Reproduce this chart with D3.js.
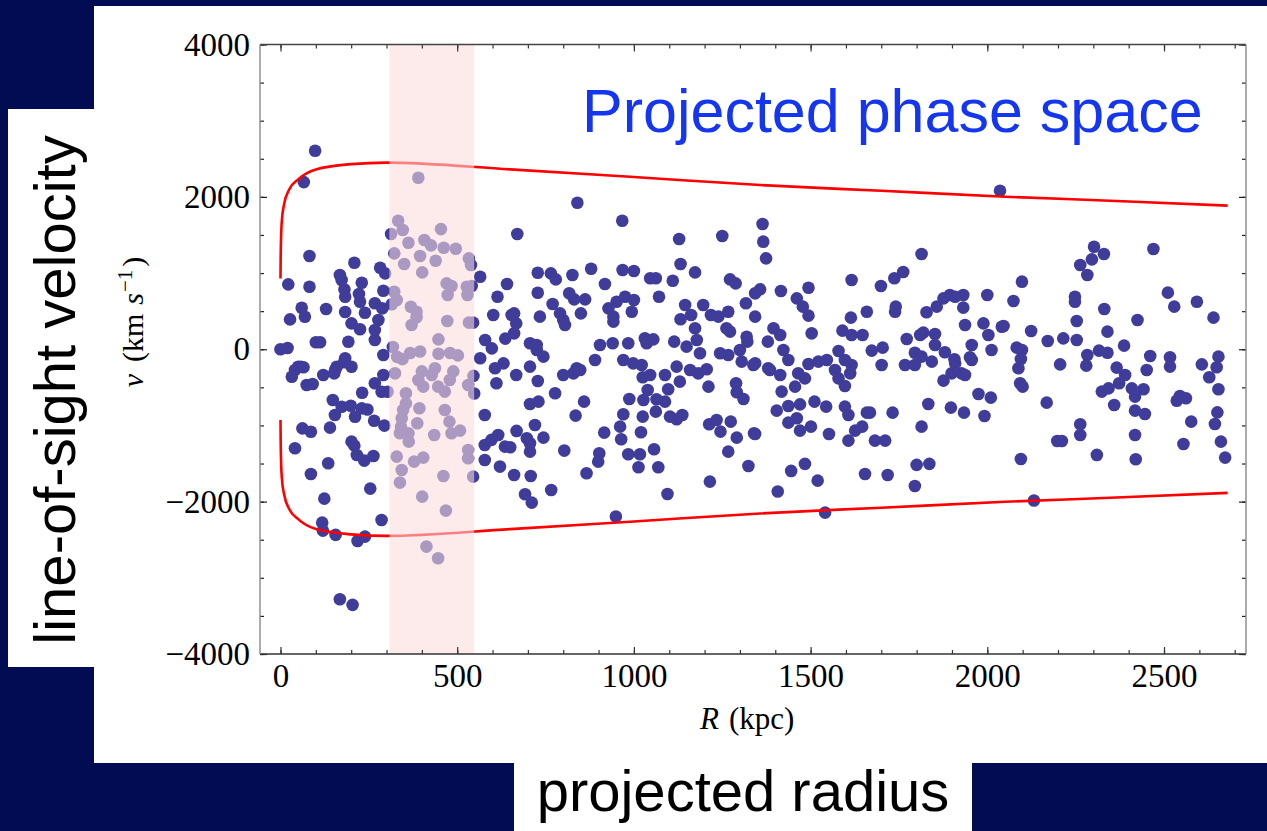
<!DOCTYPE html>
<html>
<head>
    <meta charset="utf-8">
    <script src="https://cdnjs.cloudflare.com/ajax/libs/d3/7.8.5/d3.min.js"></script>
    <style>
        body, html {
            margin: 0;
            padding: 0;
            background: #010c53;
            overflow: hidden;
        }
        svg {
            display: block;
        }
        .tick text {
            font-family: "Liberation Serif", "Times New Roman", serif;
            font-size: 33px;
            fill: #000;
        }
    </style>
</head>
<body>
    <svg></svg>
    <script>
        // projected radius R (kpc), line-of-sight velocity v (km/s)
        const innerMembers = [
            [98,2605],[66,2194],[390,2251],[82,1223],[333,1687],[346,1565],[313,1512],[362,1398],[454,1577],[407,1433],
            [426,1363],[462,1333],[496,1320],[395,1223],[322,1259],[350,1118],[439,1162],[401,1009],[533,1193],[539,1105],
            [670,1512],[565,952],[22,852],[82,821],[209,1136],[168,974],[173,908],[230,873],[282,1070],[296,996],
            [181,786],[183,690],[222,725],[225,624],[291,768],[267,603],[60,545],[129,528],[69,427],[27,392],
            [183,489],[239,480],[288,537],[277,384],[267,253],[201,340],[225,262],[267,121],[192,99],[100,91],
            [112,91],[0,0],[20,16],[183,-119],[291,-75],[50,-229],[58,-229],[159,-229],[201,-229],
            [322,755],[329,646],[315,590],[369,558],[385,493],[371,318],[385,420],[470,865],[484,830],[473,712],
            [527,821],[529,712],[472,371],[533,349],[447,130],[545,350],[541,830],[641,856],[614,690],[602,449],
            [654,449],[579,121],[598,12],[636,140],[565,-119],[631,-185],
            [330,-100],[345,-130],[367,-50],[395,-30],[447,-60],[480,-50],[502,-80],[318,30]
        ];
        const innerLowMembers = [
            [41,-272],[65,-237],[32,-360],[74,-469],[91,-456],[121,-338],[152,-316],[155,-265],[180,-170],[267,-447],
            [291,-338],[286,-557],[303,-557],[231,-570],[148,-666],[173,-754],[199,-741],[230,-776],[246,-790],[154,-863],
            [211,-885],[265,-938],[294,-1003],[140,-1029],[62,-1038],[86,-1082],[201,-1213],[209,-1265],[216,-1388],[237,-1462],
            [263,-1401],[41,-1300],[135,-1497],[86,-1637],[254,-1829],[124,-1961],[286,-2241],[118,-2276],[120,-2381],[156,-2437],
            [218,-2516],[239,-2459],[168,-3281],[204,-3355],
            [324,-316],[355,-578],[355,-710],[347,-797],[343,-906],[341,-1016],[338,-1103],[362,-1103],[363,-1212],
            [390,-403],[404,-491],[428,-338],[446,-491],[465,-556],[479,-403],[531,-469],[393,-775],[465,-797],[478,-950],
            [387,-972],[435,-1125],[484,-1103],[508,-1068],[329,-1409],[378,-1475],[404,-1422],[343,-1584],[338,-1750],[461,-1663],
            [531,-1322],[531,-1431],[545,-1672],[401,-1934],[468,-2118],[413,-2590],[446,-2743],[548,-580],
            [400,-290],[437,-250],[489,-290],[546,-350],
            [578,-863],[607,-250],[611,-447],[616,-1125],[597,-1190],[578,-1256],[635,-1278],[578,-1453],[621,-1540]
        ];
        const middleMembers = [
            [840,1923],[967,1687],[1128,1447],[1250,1486],[1132,1119],[1173,1009],[728,1005],[765,996],[779,917],[826,974],
            [879,1057],[968,1040],[1000,1027],[918,856],[1046,931],[1062,931],[1110,900],[1272,917],[1288,865],[728,742],
            [817,734],[831,655],[862,655],[770,594],[1071,690],[975,690],[1000,646],[951,624],[928,537],[942,428],
            [942,362],[994,493],[1145,581],[1162,450],[1132,393],[1196,581],[1218,450],[1239,428],[1267,493],[1317,603],
            [661,471],[667,340],[661,209],[734,428],[791,471],[800,384],[805,318],[850,471],[1173,275],[1262,275],
            [1272,231],[1319,165],[1321,100],[706,78],[725,56],[725,-10],[744,-97],[904,56],[940,78],[984,78],
            [1031,144],[1055,130],[1036,78],[1114,100],[1149,34],[1178,122],[1187,-53],[1244,-53],[1267,-75],[1300,-10]
        ];
        const middleLowMembers = [
            [667,-338],[706,-228],[728,-416],[777,-578],[800,-338],[829,-316],[838,-250],[848,-272],[890,-141],[706,-718],
            [730,-688],[859,-688],[835,-871],[668,-1072],[697,-1169],[706,-1234],[720,-994],[744,-1160],[706,-1344],[650,-1287],
            [803,-1330],[661,-1650],[708,-1663],[692,-1903],[711,-2013],[766,-1847],[866,-1628],[916,-1094],[902,-1366],[899,-1475],
            [949,-2196],[970,-854],[961,-1016],[964,-1182],[987,-653],[970,-141],[998,-185],[1022,-207],[1025,-368],[1046,-338],
            [1039,-534],[1027,-666],[1025,-884],[1020,-1090],[984,-1379],[1017,-1379],[1013,-1549],[1057,-1313],[1069,-1549],[1062,-819],
            [1064,-657],[1088,-688],[1088,-338],[1097,-526],[1130,-425],[1121,-228],[1102,-884],[1121,-919],[1137,-863],[1095,-1899],
            [1159,-272],[1182,-316],[1206,-263],[1211,-491],[1289,-447],[1291,-565],[1310,-653],[1213,-985],[1234,-928],[1245,-1081],
            [1274,-950],[1291,-1160],[1267,-1344],[1215,-1737],[1324,-1532],[1340,-1103],[1305,-163],[1338,-207]
        ];
        const outerMembers = [
            [2036,2081],[1364,1643],[1366,1412],[1374,1193],[1814,1250],[1616,909],[1699,830],[1737,931],[1762,1014],[1357,786],
            [1343,734],[1416,764],[1494,808],[1461,668],[1478,559],[1494,441],[1343,428],[1614,415],[1659,493],[1741,559],
            [1739,493],[1828,485],[1857,559],[1876,668],[1894,712],[1909,690],[1932,712],[1932,546],[2000,712],[1989,340],
            [2003,187],[2012,-10],[2041,296],[1937,318],[1503,209],[1395,275],[1414,187],[1379,100],[1590,244],[1616,187],
            [1647,187],[1772,135],[1810,187],[1819,218],[1852,200],[1852,56],[1880,-40],[1907,-132],[1956,56],[1951,-106],
            [1423,-10],[1437,-141],[1673,-18],[1704,21],[1579,-23],[1597,-141],[1494,-193],[1522,-163],[1546,-141],[1795,-45],
            [1814,-97],[1701,-206],[1767,-206],[1343,-184],[1380,-250]
        ];
        const outerLowMembers = [
            [1541,-2144],[1407,-1868],[1445,-1597],[1484,-1505],[1520,-1724],[1654,-1637],[1718,-1650],[1800,-1518],[1836,-1505],[1795,-1794],
            [1343,-1112],[1552,-1112],[1607,-1199],[1626,-1068],[1646,-1016],[1682,-1199],[1711,-1199],[1814,-1016],[1732,-832],[1833,-718],
            [1897,-766],[1934,-832],[1975,-587],[2010,-635],[1992,-876],[1404,-806],[1437,-744],[1470,-723],[1437,-963],[1461,-906],
            [1470,-1068],[1501,-1016],[1511,-688],[1544,-753],[1597,-753],[1607,-862],[1659,-832],[1668,-832],[1418,-556],[1456,-491],
            [1465,-316],[1484,-382],[1385,-272],[1414,-338],[1569,-272],[1579,-382],[1597,-482],[1612,-316],[1616,-207],[1795,-207],
            [1843,-163],[1876,-412],[1899,-316],[1927,-316],[1937,-338],[1909,-185],[1956,-141]
        ];
        const farMembers = [
            [2302,1346],[2330,1250],[2296,1180],[2263,1106],[2283,974],[2470,1315],[2098,887],[2074,633],[2248,690],[2248,624],
            [2331,528],[2511,743],[2529,559],[2593,624],[2640,415],[2425,384],[2253,371],[2046,305],[2124,240],[2171,108],
            [2215,143],[2253,122],[2340,231],[2387,47],[2083,21],[2098,-10],[2095,-128],[2283,-75],[2316,-18],[2340,-45],
            [2461,-88],[2517,-106],[2654,-97],[2206,-198],[2280,-215],[2366,-241],[2451,-272],[2517,-228],[2607,-198],[2649,-237],
            [2088,-250],
            [2132,-1986],[2095,-1440],[2310,-1387],[2420,-1444],[2673,-1422],[2198,-1204],[2211,-1204],[2263,-985],[2263,-1125],[2418,-1125],
            [2555,-1243],[2661,-1212],[2168,-701],[2359,-731],[2418,-806],[2446,-849],[2577,-950],[2644,-981],[2651,-828],[2654,-526],
            [2628,-368],[2390,-338],[2373,-447],[2324,-556],[2343,-513],[2409,-513],[2418,-622],[2442,-526],[2536,-675],[2545,-613],
            [2562,-644],[2093,-447],[2100,-491]
        ];

        // escape-velocity envelope (upper branch, lower branch is mirrored)
        const envelopeR = [0, 0.5, 1.5, 4, 10, 25, 50, 100, 200, 300, 650, 1000, 1357, 1700, 2050, 2400, 2680];
        const envelopeV = [930, 1200, 1450, 1700, 1900, 2100, 2230, 2360, 2430, 2450, 2361, 2260, 2155, 2080, 2002, 1940, 1885];

        const bandR = [308, 548];
        const xMajor = [0, 500, 1000, 1500, 2000, 2500];
        const yMajor = [-4000, -2000, 0, 2000, 4000];

        const members = [].concat(innerMembers, innerLowMembers, middleMembers, middleLowMembers,
            outerMembers, outerLowMembers, farMembers);

        const width = 1267, height = 831;
        const plot = { left: 260, right: 1246, top: 44.5, bottom: 654 };

        const svg = d3.select("svg")
            .attr("width", width)
            .attr("height", height);

        // white slide panels
        svg.append("rect").attr("x", 94).attr("y", 6).attr("width", width - 94).attr("height", 757).attr("fill", "#fff");
        svg.append("rect").attr("x", 8).attr("y", 109).attr("width", 88).attr("height", 558).attr("fill", "#fff");
        svg.append("rect").attr("x", 514).attr("y", 762).attr("width", 458).attr("height", 69).attr("fill", "#fff");

        const x = d3.scaleLinear().domain([-58, 2732]).range([plot.left, plot.right]);
        const y = d3.scaleLinear().domain([-4000, 4000]).range([plot.bottom, plot.top]);

        // members
        svg.append("g")
            .selectAll("circle")
            .data(members)
            .join("circle")
            .attr("cx", d => x(d[0]))
            .attr("cy", d => y(d[1]))
            .attr("r", 6.3)
            .attr("fill", "#3f3d99");

        // envelope curves
        const upper = envelopeR.map((r, i) => [r, envelopeV[i]]);
        const lower = envelopeR.map((r, i) => [r, -envelopeV[i]]);
        const line = d3.line()
            .x(d => x(d[0]))
            .y(d => y(d[1]))
            .curve(d3.curveMonotoneX);

        svg.append("g")
            .selectAll("path")
            .data([upper, lower])
            .join("path")
            .attr("d", line)
            .attr("fill", "none")
            .attr("stroke", "#ff0000")
            .attr("stroke-width", 2.6);

        // highlighted radial bin, laid over the points
        svg.append("rect")
            .attr("x", x(bandR[0]))
            .attr("y", plot.top)
            .attr("width", x(bandR[1]) - x(bandR[0]))
            .attr("height", plot.bottom - plot.top)
            .attr("fill", "rgb(252,220,222)")
            .attr("fill-opacity", 0.58);

        // ticks
        const xMinor = d3.range(0, 2701, 100);
        const yMinor = d3.range(-4000, 4001, 500);

        function styleTicks(g, color) {
            g.select(".domain").remove();
            g.selectAll(".tick line").attr("stroke", color).attr("stroke-width", 1.2);
        }

        svg.append("g").attr("transform", `translate(0,${plot.bottom})`)
            .call(d3.axisBottom(x).tickValues(xMinor).tickSize(-4).tickFormat(""))
            .call(g => styleTicks(g, "#333"));
        svg.append("g").attr("transform", `translate(0,${plot.bottom})`)
            .call(d3.axisBottom(x).tickValues(xMajor).tickSize(-7).tickPadding(10).tickFormat(d3.format("d")))
            .call(g => styleTicks(g, "#333"));
        svg.append("g").attr("transform", `translate(0,${plot.top})`)
            .call(d3.axisTop(x).tickValues(xMinor).tickSize(-4).tickFormat(""))
            .call(g => styleTicks(g, "#333"));
        svg.append("g").attr("transform", `translate(0,${plot.top})`)
            .call(d3.axisTop(x).tickValues(xMajor).tickSize(-7).tickFormat(""))
            .call(g => styleTicks(g, "#333"));

        svg.append("g").attr("transform", `translate(${plot.left},0)`)
            .call(d3.axisLeft(y).tickValues(yMinor).tickSize(-4).tickFormat(""))
            .call(g => styleTicks(g, "#222"));
        svg.append("g").attr("transform", `translate(${plot.left},0)`)
            .call(d3.axisLeft(y).tickValues(yMajor).tickSize(-7).tickPadding(10).tickFormat(d3.format("d")))
            .call(g => styleTicks(g, "#222"));
        svg.append("g").attr("transform", `translate(${plot.right},0)`)
            .call(d3.axisRight(y).tickValues(yMinor).tickSize(-4).tickFormat(""))
            .call(g => styleTicks(g, "#222"));
        svg.append("g").attr("transform", `translate(${plot.right},0)`)
            .call(d3.axisRight(y).tickValues(yMajor).tickSize(-7).tickFormat(""))
            .call(g => styleTicks(g, "#222"));

        // frame
        const frame = svg.append("g").attr("stroke-width", 1.4);
        frame.append("line").attr("x1", plot.left).attr("x2", plot.right).attr("y1", plot.bottom).attr("y2", plot.bottom).attr("stroke", "#333");
        frame.append("line").attr("x1", plot.left).attr("x2", plot.right).attr("y1", plot.top).attr("y2", plot.top).attr("stroke", "#444");
        frame.append("line").attr("x1", plot.left).attr("x2", plot.left).attr("y1", plot.top).attr("y2", plot.bottom).attr("stroke", "#888");
        frame.append("line").attr("x1", plot.right).attr("x2", plot.right).attr("y1", plot.top).attr("y2", plot.bottom).attr("stroke", "#888");

        // axis titles
        const yTitle = svg.append("text")
            .attr("transform", "translate(143,322) rotate(-90)")
            .attr("text-anchor", "middle")
            .style("font-family", "'Liberation Serif', serif")
            .style("font-size", "30px");
        yTitle.append("tspan").style("font-style", "italic").text("v");
        yTitle.append("tspan").attr("dx", 12).text("(km");
        yTitle.append("tspan").attr("dx", 9).style("font-style", "italic").text("s");
        yTitle.append("tspan").attr("dy", -11).attr("dx", 1).style("font-size", "21px").text("\u22121");
        yTitle.append("tspan").attr("dy", 11).attr("dx", 3).text(")");

        const xTitle = svg.append("text")
            .attr("x", 700)
            .attr("y", 729)
            .style("font-family", "'Liberation Serif', serif")
            .style("font-size", "31px");
        xTitle.append("tspan").style("font-style", "italic").text("R");
        xTitle.append("tspan").attr("dx", 10).text("(kpc)");

        // slide annotations
        svg.append("text")
            .attr("x", 582)
            .attr("y", 132)
            .style("font-family", "'Liberation Sans', Arial, sans-serif")
            .style("font-size", "61px")
            .attr("fill", "#1536f0")
            .text("Projected phase space");

        svg.append("text")
            .attr("transform", "translate(75,390) rotate(-90)")
            .attr("text-anchor", "middle")
            .style("font-family", "'Liberation Sans', Arial, sans-serif")
            .style("font-size", "58px")
            .attr("fill", "#000")
            .text("line-of-sight velocity");

        svg.append("text")
            .attr("x", 743)
            .attr("y", 811)
            .attr("text-anchor", "middle")
            .style("font-family", "'Liberation Sans', Arial, sans-serif")
            .style("font-size", "58px")
            .attr("fill", "#000")
            .text("projected radius");
    </script>
</body>
</html>
